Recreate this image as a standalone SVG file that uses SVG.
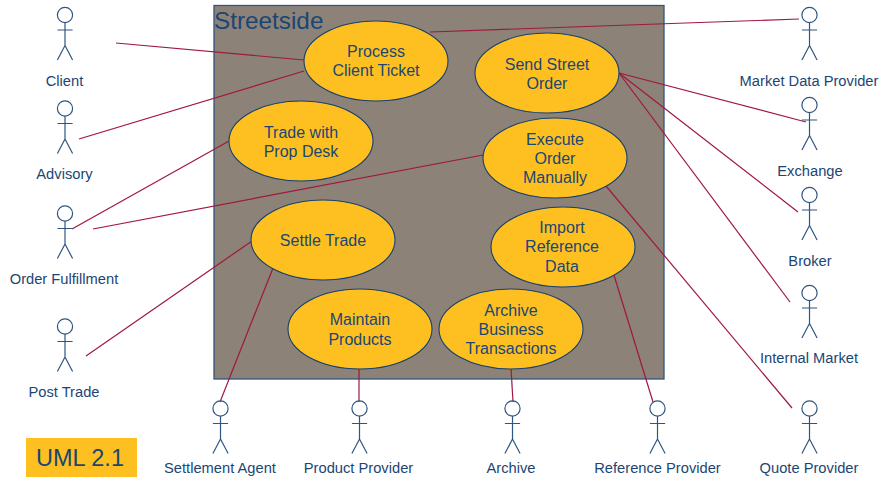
<svg xmlns="http://www.w3.org/2000/svg" width="882" height="480" viewBox="0 0 882 480">
<defs>
<style>
text{font-family:"Liberation Sans",Arial,sans-serif;fill:#1b4674;text-anchor:middle}
.l{font-size:14.7px}
.u{font-size:16px}
.c{fill:none;stroke:#a0173f;stroke-width:1.2}
.e{fill:#fdc020;stroke:#17406d;stroke-width:1.1}
.a{fill:none;stroke:#2f5680;stroke-width:1.2}
</style>
<g id="stick"><circle cx="0" cy="0" r="7.6" class="a"/><path d="M0 7.6V30.500M-7.600 15H7.600M-7.600 45L0 30.500L7.600 45" class="a"/></g>
</defs>
<g id="boundary"><rect x="214" y="5.500" width="450" height="373.500" fill="#8d8278" stroke="#2f5680" stroke-width="1.300"/><text x="214" y="29" font-size="24.300" style="text-anchor:start">Streetside</text></g>
<g id="connectors">
<path class="c" d="M116 43L304 60"/>
<path class="c" d="M79 139L304 71"/>
<path class="c" d="M72 229L229 141"/>
<path class="c" d="M93 229L483 155"/>
<path class="c" d="M86 356L252 241"/>
<path class="c" d="M220 402L273 268"/>
<path class="c" d="M359 368V402"/>
<path class="c" d="M511 368L513 402"/>
<path class="c" d="M613 272L653 402"/>
<path class="c" d="M606 186L792 408"/>
<path class="c" d="M430 32L799 19"/>
<path class="c" d="M619 73L806 122"/>
<path class="c" d="M619 73L798 212"/>
<path class="c" d="M619 73L790 302"/>
</g>
<g id="uc-process"><ellipse class="e" cx="376" cy="61" rx="72" ry="40"/><text class="u" x="376" y="57">Process</text><text class="u" x="376" y="76">Client Ticket</text></g>
<g id="uc-send"><ellipse class="e" cx="547" cy="73" rx="72" ry="40"/><text class="u" x="547" y="70">Send Street</text><text class="u" x="547" y="89">Order</text></g>
<g id="uc-prop"><ellipse class="e" cx="301" cy="141" rx="72" ry="40"/><text class="u" x="301" y="138">Trade with</text><text class="u" x="301" y="157">Prop Desk</text></g>
<g id="uc-execute"><ellipse class="e" cx="555" cy="158" rx="72" ry="40"/><text class="u" x="555" y="145">Execute</text><text class="u" x="555" y="164">Order</text><text class="u" x="555" y="183">Manually</text></g>
<g id="uc-settle"><ellipse class="e" cx="323" cy="240" rx="72" ry="40"/><text class="u" x="323" y="246">Settle Trade</text></g>
<g id="uc-import"><ellipse class="e" cx="563" cy="247" rx="72" ry="40"/><text class="u" x="562" y="233">Import</text><text class="u" x="562" y="252">Reference</text><text class="u" x="562" y="272">Data</text></g>
<g id="uc-maintain"><ellipse class="e" cx="360" cy="329" rx="72" ry="40"/><text class="u" x="360" y="325">Maintain</text><text class="u" x="360" y="345">Products</text></g>
<g id="uc-archive"><ellipse class="e" cx="511" cy="329" rx="72" ry="40"/><text class="u" x="511" y="316">Archive</text><text class="u" x="511" y="335">Business</text><text class="u" x="511" y="354">Transactions</text></g>
<g id="a-client"><use href="#stick" x="65" y="15"/><text class="l" x="64.500" y="86">Client</text></g>
<g id="a-advisory"><use href="#stick" x="65" y="108.500"/><text class="l" x="64.500" y="179">Advisory</text></g>
<g id="a-fulfillment"><use href="#stick" x="65" y="213.500"/><text class="l" x="64" y="284">Order Fulfillment</text></g>
<g id="a-post"><use href="#stick" x="65" y="326.500"/><text class="l" x="64" y="397">Post Trade</text></g>
<g id="a-settlement"><use href="#stick" x="220.500" y="408.500"/><text class="l" x="220" y="473">Settlement Agent</text></g>
<g id="a-product"><use href="#stick" x="359.500" y="408.500"/><text class="l" x="358.500" y="473">Product Provider</text></g>
<g id="a-archive"><use href="#stick" x="512.500" y="408.500"/><text class="l" x="511" y="473">Archive</text></g>
<g id="a-reference"><use href="#stick" x="657.500" y="408.500"/><text class="l" x="657.500" y="473">Reference Provider</text></g>
<g id="a-quote"><use href="#stick" x="809.500" y="408.500"/><text class="l" x="809" y="473">Quote Provider</text></g>
<g id="a-market"><use href="#stick" x="809.500" y="15"/><text class="l" x="809" y="86">Market Data Provider</text></g>
<g id="a-exchange"><use href="#stick" x="809.500" y="105"/><text class="l" x="810" y="176">Exchange</text></g>
<g id="a-broker"><use href="#stick" x="809.500" y="195"/><text class="l" x="810" y="266">Broker</text></g>
<g id="a-internal"><use href="#stick" x="809.500" y="293"/><text class="l" x="809" y="363">Internal Market</text></g>
<g id="uml"><rect x="26" y="438" width="111" height="39" fill="#fdc020"/><text x="80" y="466" font-size="23.500">UML 2.1</text></g>
</svg>
